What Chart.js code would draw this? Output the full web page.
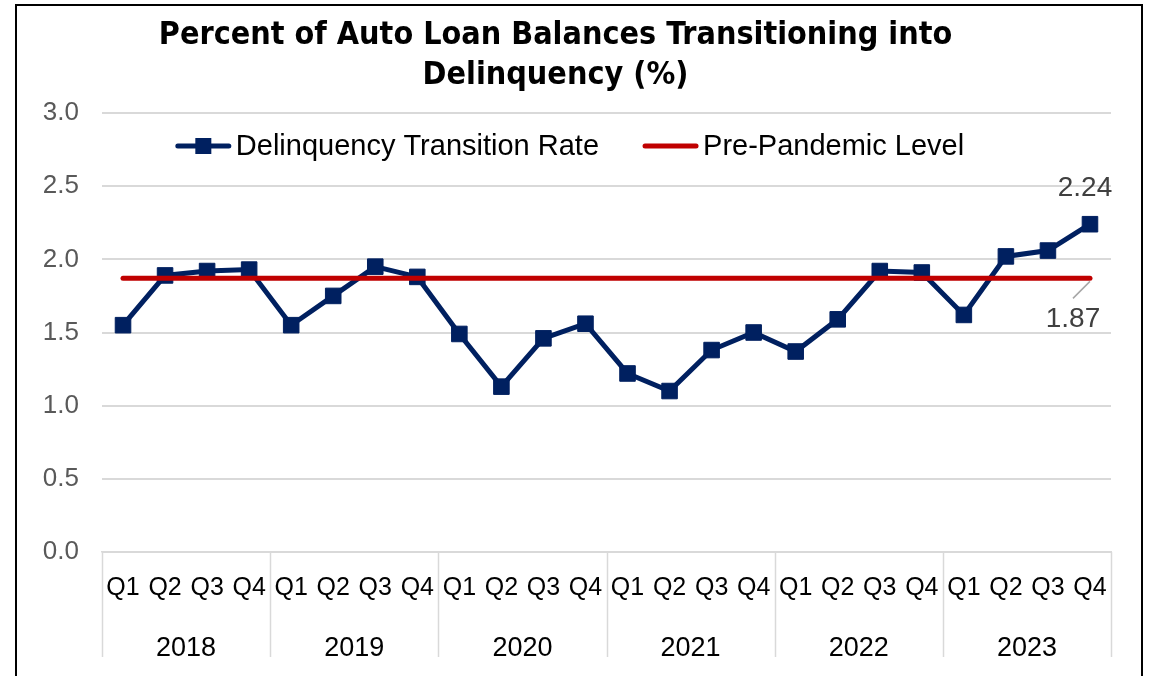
<!DOCTYPE html>
<html>
<head>
<meta charset="utf-8">
<script src="https://cdn.jsdelivr.net/npm/chart.js@4/dist/chart.umd.min.js"></script>
<style>
  html, body { margin: 0; padding: 0; background: #fff; overflow: hidden; }
  #wrap { position: relative; width: 1152px; height: 676px; }
  #frame {
    position: absolute; left: 15px; top: 4px; width: 1124px; height: 700px;
    border: 2px solid #000; border-bottom: none; pointer-events: none;
  }
</style>
</head>
<body>
<div id="wrap">
  <canvas id="chart" width="1152" height="676"></canvas>
  <div id="frame"></div>
</div>
<script>
// Data
const years = ['2018', '2019', '2020', '2021', '2022', '2023'];
const quarters = ['Q1', 'Q2', 'Q3', 'Q4'];
const rates = [
  1.55, 1.89, 1.92, 1.93,
  1.55, 1.75, 1.95, 1.88,
  1.49, 1.13, 1.46, 1.56,
  1.22, 1.10, 1.38, 1.50,
  1.37, 1.59, 1.92, 1.91,
  1.62, 2.02, 2.06, 2.24
];
const prePandemicLevel = 1.87;
const yTicks = [0, 0.5, 1.0, 1.5, 2.0, 2.5, 3.0];

const labels = years.flatMap(() => quarters);
const preLine = labels.map(() => prePandemicLevel);

const NAVY = '#002060';
const RED = '#C00000';
const GRID = '#d9d9d9';
const FONT = "'Liberation Sans', Arial, sans-serif";

// year separators under the axis, value labels, and legend inside plot
const extras = {
  id: 'extras',
  afterDraw(chart) {
    const ctx = chart.ctx;
    const x = chart.scales.x;
    const y = chart.scales.y;
    const area = chart.chartArea;

    // separators between year groups
    ctx.save();
    ctx.strokeStyle = GRID;
    ctx.lineWidth = 1.5;
    for (let i = 0; i <= years.length; i++) {
      const px = Math.round(x.getPixelForValue(i * 4 - 0.5)) + 0.5;
      ctx.beginPath();
      ctx.moveTo(px, area.bottom);
      ctx.lineTo(px, area.bottom + 105);
      ctx.stroke();
    }
    ctx.restore();

    // value labels at the last point
    const last = rates.length - 1;
    const lx = x.getPixelForValue(last);
    ctx.save();
    ctx.font = '28px ' + FONT;
    ctx.fillStyle = '#404040';
    ctx.textAlign = 'center';
    ctx.textBaseline = 'middle';
    ctx.fillText(rates[last].toFixed(2), lx - 5, y.getPixelForValue(rates[last]) - 36);

    const ry = y.getPixelForValue(prePandemicLevel);
    ctx.strokeStyle = '#a6a6a6';
    ctx.lineWidth = 1.5;
    ctx.beginPath();
    ctx.moveTo(lx, ry + 3);
    ctx.lineTo(lx - 17, ry + 20);
    ctx.stroke();
    ctx.fillText(prePandemicLevel.toFixed(2), lx - 17, ry + 41);
    ctx.restore();

    // legend
    ctx.save();
    ctx.font = '29px ' + FONT;
    ctx.textBaseline = 'middle';
    ctx.fillStyle = '#000';
    const items = chart.data.datasets.map(d => ({
      text: d.label,
      color: d.borderColor,
      marker: d.pointRadius > 0,
      w: ctx.measureText(d.label).width
    }));
    const lineLen = 55, textGap = 5, itemGap = 44;
    let total = 0;
    items.forEach((it, i) => { total += lineLen + textGap + it.w + (i ? itemGap : 0); });
    let cx = 570 - total / 2;
    const ly = area.top + 33;
    items.forEach((it, i) => {
      if (i) cx += itemGap;
      ctx.strokeStyle = it.color;
      ctx.lineWidth = 5;
      ctx.lineCap = 'round';
      ctx.beginPath();
      ctx.moveTo(cx + 2, ly);
      ctx.lineTo(cx + lineLen - 2, ly);
      ctx.stroke();
      if (it.marker) {
        ctx.fillStyle = it.color;
        ctx.fillRect(cx + lineLen / 2 - 8, ly - 8, 16, 16);
        ctx.fillStyle = '#000';
      }
      cx += lineLen + textGap;
      ctx.fillText(it.text, cx, ly + 1);
      cx += it.w;
    });
    ctx.restore();
  }
};

new Chart(document.getElementById('chart'), {
  type: 'line',
  data: {
    labels: labels,
    datasets: [
      {
        label: 'Delinquency Transition Rate',
        data: rates,
        borderColor: NAVY,
        backgroundColor: NAVY,
        borderWidth: 5,
        pointStyle: 'rect',
        pointRadius: 11,
        pointBorderWidth: 1,
        pointBackgroundColor: NAVY,
        pointBorderColor: NAVY,
        tension: 0,
        order: 1
      },
      {
        label: 'Pre-Pandemic Level',
        data: preLine,
        borderColor: RED,
        backgroundColor: RED,
        borderWidth: 5,
        borderCapStyle: 'round',
        pointRadius: 0,
        tension: 0,
        order: 0
      }
    ]
  },
  options: {
    responsive: false,
    animation: false,
    layout: { padding: { left: 0, right: 41, top: 0, bottom: 0 } },
    plugins: {
      legend: { display: false },
      tooltip: { enabled: false },
      title: {
        display: true,
        text: ['Percent of Auto Loan Balances Transitioning into', 'Delinquency (%)'],
        color: '#000',
        font: { family: "'Liberation Sans Narrow', 'DejaVu Sans Condensed', " + FONT, size: 32, weight: 'bold', lineHeight: '40px' },
        padding: { top: 16, bottom: 17 }
      }
    },
    scales: {
      x: {
        type: 'category',
        position: 'bottom',
        offset: true,
        grid: { display: true, drawOnChartArea: false, drawTicks: false },
        border: { display: true, color: GRID, width: 1.5 },
        ticks: {
          color: '#000',
          font: { family: FONT, size: 25 },
          padding: 21,
          autoSkip: false,
          maxRotation: 0
        },
        afterFit(scale) { scale.height = 62; }
      },
      x2: {
        type: 'category',
        position: 'bottom',
        labels: years,
        offset: true,
        grid: { display: false },
        border: { display: false },
        ticks: {
          color: '#000',
          font: { family: FONT, size: 27 },
          padding: 10,
          maxRotation: 0
        },
        afterFit(scale) { scale.height = 62; }
      },
      y: {
        min: 0,
        max: 3,
        afterBuildTicks(scale) { scale.ticks = yTicks.map(v => ({ value: v })); },
        grid: { color: GRID, lineWidth: 2, drawTicks: false },
        border: { display: false },
        ticks: {
          color: '#595959',
          font: { family: FONT, size: 26 },
          padding: 23,
          callback: v => v.toFixed(1)
        },
        afterFit(scale) { scale.width = 102; }
      }
    }
  },
  plugins: [extras]
});
</script>
</body>
</html>
